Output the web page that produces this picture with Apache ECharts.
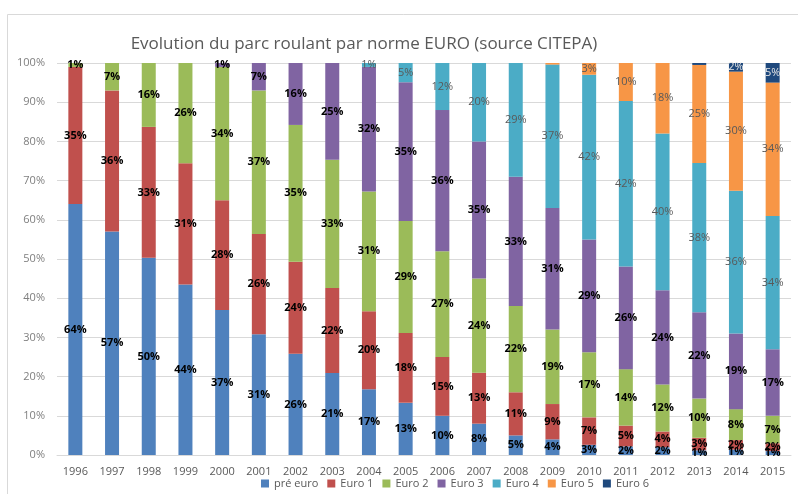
<!DOCTYPE html>
<html>
<head>
<meta charset="utf-8">
<title>Evolution du parc roulant</title>
<script src="https://cdn.jsdelivr.net/npm/echarts@6/dist/echarts.min.js"></script>
<style>
	html,body{margin:0;padding:0;background:#fff;}
	#parcChart{width:798px;height:494px;}
</style>
</head>
<body>
<div id="parcChart"></div>
<script>
var years = ['1996','1997','1998','1999','2000','2001','2002','2003','2004','2005','2006','2007','2008','2009','2010','2011','2012','2013','2014','2015'];
var preEuro = [64,57,50.3,43.5,37,30.8,25.8,20.9,16.8,13.3,10,8,5,4,2.6,2.2,2,1.2,1.4,1];
var euro1 = [35,36,33.4,30.9,28,25.6,23.5,21.7,19.9,17.8,15,13,11,9,7,5.3,4,3.2,2.4,2];
var euro2 = [1,7,16.3,25.6,34,36.6,34.9,32.7,30.5,28.6,27,24,22,19,16.6,14.4,12,10,7.9,7];
var euro3 = [0,0,0,0,1,7,15.8,24.7,31.8,35.4,36,35,33,31,28.8,26.2,24,22,19.3,17];
var euro4 = [0,0,0,0,0,0,0,0,1,4.9,12,20,29,36.6,42,42.2,40,38.1,36.4,34];
var euro5 = [0,0,0,0,0,0,0,0,0,0,0,0,0,0.4,3,9.7,18,25,30.4,34];
var euro6 = [0,0,0,0,0,0,0,0,0,0,0,0,0,0,0,0,0,0.5,2.2,5];
var yTicks = [0,10,20,30,40,50,60,70,80,90,100];

var fontName = 'Open Sans';
//名称, 数据, 颜色, 标签颜色, 字重
var seriesDef = [
	['pré euro', preEuro, '#4F81BD', '#000', 'bold'],
	['Euro 1', euro1, '#C0504D', '#000', 'bold'],
	['Euro 2', euro2, '#9BBB59', '#000', 'bold'],
	['Euro 3', euro3, '#8064A2', '#000', 'bold'],
	['Euro 4', euro4, '#4BACC6', '#595959', 'normal'],
	['Euro 5', euro5, '#F79646', '#595959', 'normal'],
	['Euro 6', euro6, '#1F497D', '#e6e6e6', 'normal']
];

function buildSeries(){
	var list = [];
	for(var i=0;i<seriesDef.length;i++){
		var d = seriesDef[i];
		list.push({
			name: d[0],
			type: 'bar',
			stack: 'parc',
			barWidth: 14,
			data: d[1],
			itemStyle: {color: d[2]},
			label: {
				show: true,
				position: 'inside',
				color: d[3],
				fontWeight: d[4],
				fontSize: 11,
				fontFamily: fontName,
				formatter: function(p){
					if(p.value < 0.95) return '';
					return Math.round(p.value) + '%';
				}
			}
		});
	}
	return list;
}

var charts = echarts.init(document.getElementById('parcChart'));
var option = {
	animation: false,
	textStyle: {fontFamily: fontName},
	title: {
		text: 'Evolution du parc roulant par norme EURO (source CITEPA)',
		left: 359,
		top: 31,
		textAlign: 'center',
		textStyle: {fontSize: 17, fontWeight: 'normal', color: '#595959', fontFamily: fontName}
	},
	graphic: [{
		type: 'rect',
		shape: {x: 7.5, y: 14.5, width: 830, height: 520},
		style: {fill: 'none', stroke: '#D9D9D9', lineWidth: 1},
		silent: true
	}],
	legend: {
		data: ['pré euro','Euro 1','Euro 2','Euro 3','Euro 4','Euro 5','Euro 6'],
		left: 256,
		top: 476,
		padding: [2,5,2,5],
		itemWidth: 8,
		itemHeight: 8,
		itemGap: 9,
		icon: 'rect',
		textStyle: {fontSize: 11, color: '#595959', fontFamily: fontName}
	},
	grid: {
		left: 57,
		right: 7,
		top: 63,
		bottom: 39
	},
	xAxis: {
		type: 'category',
		data: years,
		axisLine: {lineStyle: {color: '#D9D9D9'}},
		axisTick: {show: false},
		axisLabel: {color: '#595959', fontSize: 11, margin: 11}
	},
	yAxis: {
		type: 'value',
		min: yTicks[0],
		max: yTicks[yTicks.length-1],
		interval: 10,
		axisLine: {show: false},
		axisTick: {show: false},
		splitLine: {lineStyle: {color: '#D9D9D9'}},
		axisLabel: {color: '#7F7F7F', fontSize: 11, margin: 12, formatter: '{value}%'}
	},
	series: buildSeries()
};
charts.setOption(option);
</script>
</body>
</html>
